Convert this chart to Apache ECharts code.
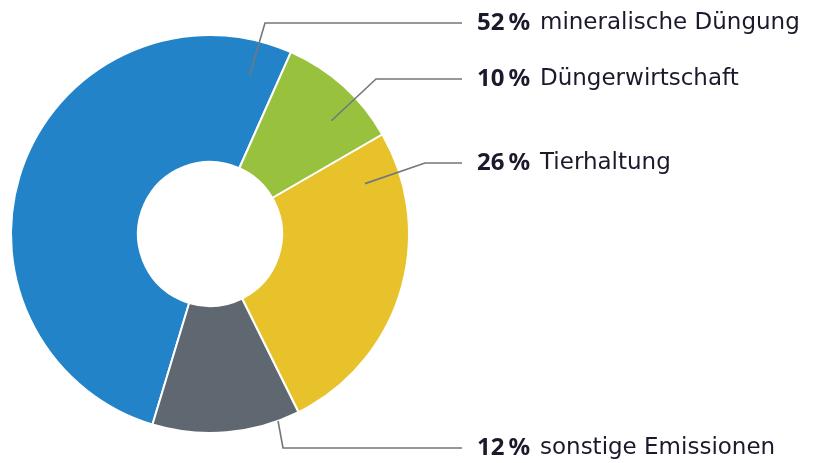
<!DOCTYPE html>
<html>
<head>
<meta charset="utf-8">
<script src="https://cdn.jsdelivr.net/npm/echarts@6/dist/echarts.min.js"></script>
<style>
  html, body { margin: 0; padding: 0; background: #fff; }
  #chart { width: 819px; height: 463px; }
</style>
</head>
<body>
<div id="chart"></div>
<script>
  // data
  var categories = ['mineralische Düngung', 'Düngerwirtschaft', 'Tierhaltung', 'sonstige Emissionen'];
  var shares = [52, 10, 26, 12];
  var colors = ['#2383c8', '#98c13d', '#e8c22a', '#5f6770'];

  // geometry of the ring (px)
  var cx = 210, cy = 234;
  var innerR = 72, outerR = 199;

  // leader lines: where they start inside the slice (compass angle, radius),
  // the bend point and the row of the label
  var leaders = [
    {angle: 14, r: 163, bendX: 265, y: 23},
    {angle: 47, r: 166, bendX: 376, y: 79},
    {angle: 72, r: 163, bendX: 425, y: 163},
    {angle: 160, r: 199, bendX: 283, y: 448}
  ];
  var lineEndX = 462, textX = 477;

  var chart = echarts.init(document.getElementById('chart'));

  var ringData = categories.map(function (name, i) {
    return {name: name, value: shares[i], itemStyle: {color: colors[i]}};
  });
  var labelData = categories.map(function (name, i) {
    return {name: name, value: shares[i]};
  });

  var option = {
    animation: false,
    series: [
      {
        // the ring
        type: 'pie',
        z: 2,
        center: [cx, cy],
        radius: [innerR, outerR],
        startAngle: 253.2,
        clockwise: true,
        data: ringData,
        itemStyle: {borderColor: '#fff', borderWidth: 2},
        emphasis: {disabled: true},
        label: {show: false},
        labelLine: {show: false}
      },
      {
        // same slices, invisible, only used for labels + leader lines on top
        type: 'pie',
        z: 5,
        silent: true,
        center: [cx, cy],
        radius: [innerR, outerR],
        startAngle: 253.2,
        clockwise: true,
        avoidLabelOverlap: false,
        data: labelData,
        itemStyle: {color: 'rgba(0,0,0,0)', borderWidth: 0},
        emphasis: {disabled: true},
        label: {
          show: true,
          position: 'outside',
          overflow: 'none',
          formatter: function (p) {
            return '{b|' + p.value + '\u2009%}{n|' + p.name + '}';
          },
          rich: {
            b: {fontFamily: 'Noto Sans', fontSize: 24, fontWeight: 'bold', color: '#1a1a2c', width: 63},
            n: {fontFamily: 'DejaVu Sans', fontSize: 23, color: '#1a1a2c'}
          }
        },
        labelLine: {
          show: true,
          lineStyle: {color: '#72777e', width: 1.6}
        },
        labelLayout: function (params) {
          var l = leaders[params.dataIndex];
          var a = l.angle * Math.PI / 180;
          var sx = cx + l.r * Math.sin(a);
          var sy = cy - l.r * Math.cos(a);
          return {
            x: textX,
            y: l.y,
            align: 'left',
            verticalAlign: 'middle',
            hideOverlap: false,
            labelLinePoints: [[sx, sy], [l.bendX, l.y], [lineEndX, l.y]]
          };
        }
      }
    ]
  };

  chart.setOption(option);
</script>
</body>
</html>
